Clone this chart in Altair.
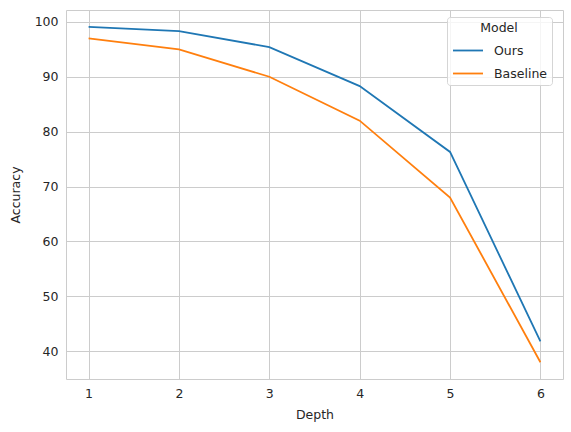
import altair as alt
import pandas as pd

depth = [1, 2, 3, 4, 5, 6]
ours = [99.1, 98.3, 95.4, 88.3, 76.3, 41.8]
baseline = [97.0, 95.0, 90.0, 82.0, 68.0, 38.0]
models = ["Ours", "Baseline"]
colors = ["#1f77b4", "#ff7f0e"]

df = pd.concat([
    pd.DataFrame({"Depth": depth, "Accuracy": ours, "Model": "Ours"}),
    pd.DataFrame({"Depth": depth, "Accuracy": baseline, "Model": "Baseline"}),
])

FONT = "DejaVu Sans"
TXT = "#262626"

chart = alt.Chart(df).mark_line(strokeWidth=1.8, clip=True).encode(
    x=alt.X("Depth:Q", scale=alt.Scale(domain=[0.75, 6.25], nice=False, zero=False),
            axis=alt.Axis(values=depth, format="d", title="Depth")),
    y=alt.Y("Accuracy:Q", scale=alt.Scale(domain=[34.94, 102.16], nice=False, zero=False),
            axis=alt.Axis(values=[40, 50, 60, 70, 80, 90, 100], title="Accuracy")),
    color=alt.Color("Model:N", scale=alt.Scale(domain=models, range=colors),
                    sort=models,
                    legend=alt.Legend(title="Model", orient="none", legendX=381, legendY=7,
                                      symbolType="stroke", symbolSize=900, symbolStrokeWidth=1.8,
                                      titleAnchor="middle", titleAlign="center",
                                      fillColor="rgba(255,255,255,0.8)", strokeColor="#d5d5d5",
                                      cornerRadius=3, padding=5, rowPadding=-3,
                                      labelOffset=10, titlePadding=0)),
).properties(
    width=497, height=369,
    background="white",
    autosize=alt.AutoSizeParams(type="none"),
    padding={"left": 66, "top": 10, "right": 8, "bottom": 53},
).configure_view(
    stroke="#cccccc", strokeWidth=1
).configure_axis(
    grid=True, gridColor="#cccccc", gridWidth=1, domain=False, ticks=False,
    labelFont=FONT, labelFontSize=12.5, labelColor=TXT, labelPadding=8,
    titleFont=FONT, titleFontSize=12.5, titleColor=TXT, titleFontWeight="normal",
).configure_axisX(titlePadding=9).configure_axisY(titlePadding=12).configure_legend(
    labelFont=FONT, labelFontSize=12.5, labelColor=TXT,
    titleFont=FONT, titleFontSize=12.5, titleColor=TXT, titleFontWeight="normal",
)

chart.save("out.html", embed_options={"renderer": "svg", "actions": False})
